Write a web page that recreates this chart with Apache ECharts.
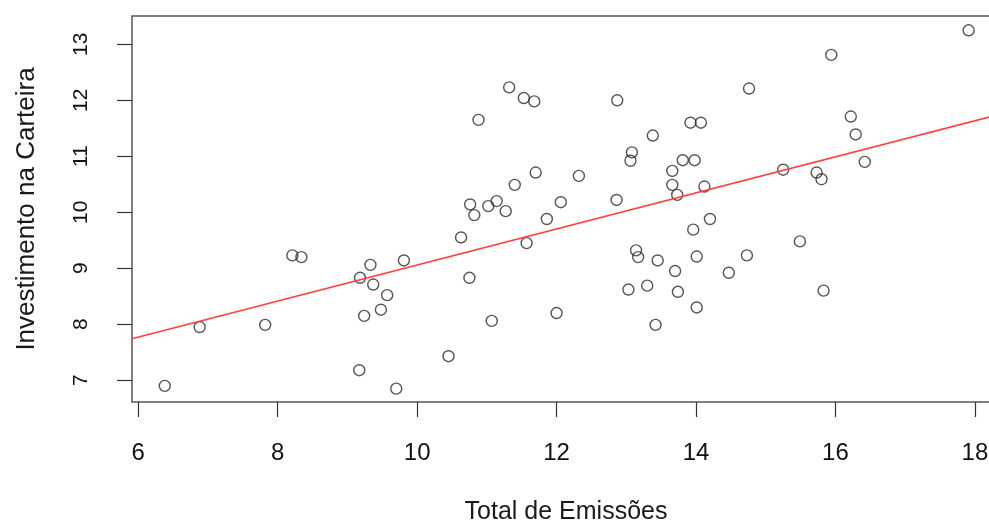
<!DOCTYPE html>
<html>
<head>
<meta charset="utf-8">
<script src="https://cdn.jsdelivr.net/npm/echarts@6/dist/echarts.min.js"></script>
<style>
html,body{margin:0;padding:0;background:#fff;overflow:hidden;}
#chart{width:989px;height:524px;}
</style>
</head>
<body>
<div id="chart"></div>
<script>
// Data
const emissoes = [6.38, 6.88, 7.82, 8.21, 8.34, 9.18, 9.33, 9.37, 9.81, 9.57, 9.48, 9.24, 9.17, 9.70,
  10.45, 10.63, 10.75, 10.76, 10.82, 10.88, 11.02, 11.07, 11.14, 11.27, 11.32, 11.40, 11.53, 11.68,
  11.70, 11.57, 11.86, 12.00, 12.06, 12.32, 12.86, 12.87, 13.03, 13.14, 13.17, 13.30, 13.42, 13.45,
  13.08, 13.06, 13.38, 13.66, 13.66, 13.73, 13.81, 13.98, 13.92, 14.07, 13.96, 13.70, 13.74, 14.01,
  14.01, 14.12, 14.20, 14.47, 14.73, 14.76, 15.25, 15.49, 15.73, 15.80, 15.83, 15.94, 16.22, 16.29,
  16.42, 17.91];
const investimento = [6.90, 7.95, 7.99, 9.23, 9.20, 8.83, 9.06, 8.71, 9.14, 8.52, 8.26, 8.15, 7.18, 6.85,
  7.43, 9.55, 8.83, 10.14, 9.95, 11.65, 10.11, 8.06, 10.20, 10.02, 12.23, 10.49, 12.04, 11.98,
  10.71, 9.45, 9.88, 8.20, 10.18, 10.65, 10.22, 12.00, 8.62, 9.32, 9.20, 8.69, 7.99, 9.14,
  11.07, 10.92, 11.37, 10.74, 10.49, 10.31, 10.93, 10.93, 11.60, 11.60, 9.69, 8.95, 8.58, 9.21,
  8.30, 10.46, 9.88, 8.92, 9.23, 12.21, 10.76, 9.48, 10.71, 10.59, 8.60, 12.81, 11.71, 11.39,
  10.90, 13.25];
// Fitted line end points
const fitX = [5.91, 18.36];
const fitY = [7.74, 11.75];
// Tick labels
const xTicks = [6, 8, 10, 12, 14, 16, 18];
const yTicks = [7, 8, 9, 10, 11, 12, 13];
const xTitle = 'Total de Emissões';
const yTitle = 'Investimento na Carteira';

const points = emissoes.map((x, i) => [x, investimento[i]]);
const fitLine = fitX.map((x, i) => [x, fitY[i]]);
const FONT = '"Liberation Sans", Arial, sans-serif';

const chart = echarts.init(document.getElementById('chart'), null, {renderer: 'canvas'});
chart.setOption({
  animation: false,
  backgroundColor: '#fff',
  grid: {
    left: 132, top: 16, width: 868, height: 386,
    outerBoundsMode: 'none',
    show: true, borderColor: '#555', borderWidth: 1.5, backgroundColor: 'transparent',
    containLabel: false
  },
  xAxis: {
    type: 'value', min: 5.91, max: 18.36,
    name: xTitle, nameLocation: 'middle', nameGap: 98,
    nameTextStyle: {fontFamily: FONT, fontSize: 25, color: '#1a1a1a'},
    splitLine: {show: false},
    axisLine: {show: false},
    axisTick: {show: true, customValues: xTicks, length: 15, inside: false, lineStyle: {color: '#333', width: 1.2}},
    axisLabel: {show: true, customValues: xTicks, margin: 39, fontFamily: FONT, fontSize: 24, color: '#111'}
  },
  yAxis: {
    type: 'value', min: 6.612, max: 13.505,
    name: yTitle, nameLocation: 'middle', nameGap: 92, nameRotate: 90,
    nameTextStyle: {fontFamily: FONT, fontSize: 26, color: '#1a1a1a'},
    splitLine: {show: false},
    axisLine: {show: false},
    axisTick: {show: true, customValues: yTicks, length: 15, inside: false, lineStyle: {color: '#333', width: 1.2}},
    axisLabel: {show: true, customValues: yTicks, rotate: 90, margin: 40, fontFamily: FONT, fontSize: 21, color: '#111'}
  },
  series: [
    {
      type: 'scatter',
      data: points,
      symbol: 'circle',
      symbolSize: 11,
      itemStyle: {color: 'rgba(0,0,0,0)', borderColor: '#2a2a2a', borderWidth: 1.4},
      z: 2
    },
    {
      type: 'line',
      data: fitLine,
      symbol: 'none',
      lineStyle: {color: '#ff4040', width: 1.5},
      clip: true,
      z: 3
    }
  ]
});
</script>
</body>
</html>
